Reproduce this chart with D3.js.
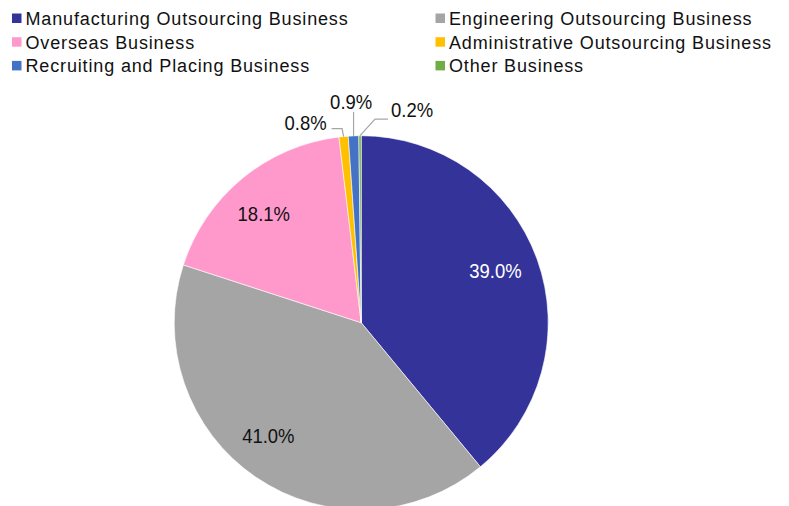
<!DOCTYPE html>
<html>
<head>
<meta charset="utf-8">
<script src="https://cdn.jsdelivr.net/npm/d3@7"></script>
<style>
  html, body { margin: 0; padding: 0; background: #fff; }
  svg { display: block; }
</style>
</head>
<body>
<svg id="chart" width="789" height="506"></svg>
<script>
// ---- data ----
const categories = [
  "Manufacturing Outsourcing Business",
  "Engineering Outsourcing Business",
  "Overseas Business",
  "Administrative Outsourcing Business",
  "Recruiting and Placing Business",
  "Other Business"
];
const values = [39.0, 41.0, 18.1, 0.8, 0.9, 0.2];
const valueLabels = ["39.0%", "41.0%", "18.1%", "0.8%", "0.9%", "0.2%"];
const colors = ["#333399", "#A5A5A5", "#FF99CC", "#FFC000", "#4472C4", "#70AD47"];
// legend order as shown (two columns, row-major)
const legendOrder = [0, 1, 2, 3, 4, 5];

// ---- layout ----
const svg = d3.select("#chart");
const cx = 361.2, cy = 322.7, R = 187;
const font = "'Liberation Sans', Arial, sans-serif";

const pie = d3.pie().sort(null).value(d => d).startAngle(0).endAngle(2 * Math.PI);
const arcs = pie(values);
const arc = d3.arc().innerRadius(0).outerRadius(R);

const g = svg.append("g").attr("transform", `translate(${cx},${cy})`);
g.selectAll("path.slice")
  .data(arcs)
  .join("path")
  .attr("class", "slice")
  .attr("d", arc)
  .attr("fill", (d, i) => colors[i])
  .attr("stroke", "#fff")
  .attr("stroke-width", 0.6);

// inside labels (first three), positioned from arc centroid with small layout nudges
const labelArc = d3.arc().innerRadius(R * 0.78).outerRadius(R * 0.78);
const insideNudge = { 0: [-3, -3.6], 1: [-10.9, -8.1], 2: [-4.8, 3.2] };
const insideColor = { 0: "#ffffff", 1: "#111", 2: "#111" };
[0, 1, 2].forEach(i => {
  const [x, y] = labelArc.centroid(arcs[i]);
  const [nx, ny] = insideNudge[i];
  g.append("text")
    .attr("transform", `translate(${x + nx},${y + ny + 8}) scale(0.88,1)`)
    .attr("text-anchor", "middle")
    .attr("font-family", font)
    .attr("font-size", 21)
    .attr("fill", insideColor[i])
    .text(valueLabels[i]);
});

// outside labels with leader lines (small slices)
const edgeArc = d3.arc().innerRadius(R).outerRadius(R);
function edgePoint(a) {
  const m = (a.startAngle + a.endAngle) / 2;
  return [R * Math.sin(m), -R * Math.cos(m)];
}
// leader definitions: offsets relative to the slice edge point
const outside = {
  3: { pts: [[0, 0], [-1.5, -8], [-12, -8]], text: [-38, -6.5] },
  4: { pts: [[0, 0], [0, -24]], text: [-2.4, -27] },
  5: { pts: [[0, 0], [15, -16.5], [28, -16.5]], text: [52, -18.4] }
};
Object.keys(outside).forEach(k => {
  const i = +k;
  const [ex, ey] = edgePoint(arcs[i]);
  const def = outside[i];
  g.append("path")
    .attr("d", d3.line()(def.pts.map(p => [ex + p[0], ey + p[1]])))
    .attr("fill", "none")
    .attr("stroke", "#A6A6A6")
    .attr("stroke-width", 1.2);
  g.append("text")
    .attr("transform", `translate(${ex + def.text[0]},${ey + def.text[1]}) scale(0.88,1)`)
    .attr("text-anchor", "middle")
    .attr("font-family", font)
    .attr("font-size", 21)
    .attr("fill", "#111")
    .text(valueLabels[i]);
});

// ---- legend ----
const colX = [12, 435.5];
const rowY = [25, 48.7, 72.4];
const legend = svg.append("g");
legendOrder.forEach((idx, k) => {
  const col = k % 2, row = Math.floor(k / 2);
  const lg = legend.append("g").attr("transform", `translate(${colX[col]},${rowY[row]})`);
  lg.append("rect")
    .attr("x", 0).attr("y", -11.5)
    .attr("width", 9.5).attr("height", 9.5)
    .attr("fill", colors[idx]);
  lg.append("text")
    .attr("x", 13.5).attr("y", 0)
    .attr("font-family", font)
    .attr("font-size", 18)
    .attr("letter-spacing", 0.85)
    .attr("fill", "#111")
    .text(categories[idx]);
});
</script>
</body>
</html>
